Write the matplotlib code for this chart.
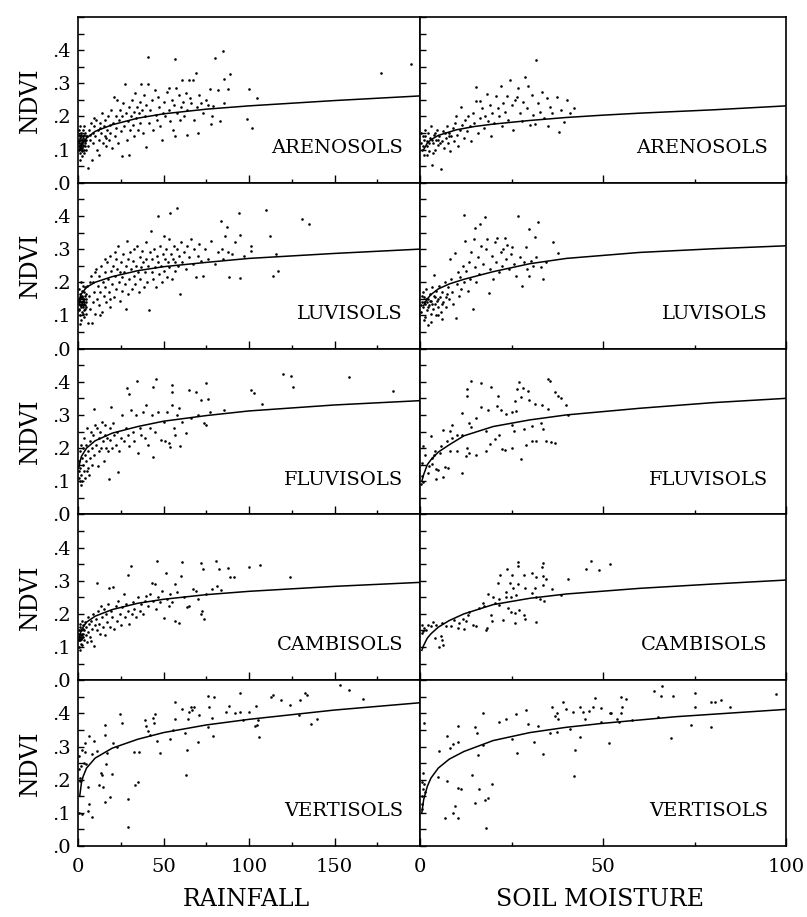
import numpy as np
import matplotlib
matplotlib.use("Agg")
import matplotlib.pyplot as plt
from matplotlib.ticker import MultipleLocator, FixedLocator

plt.rcParams['font.family'] = ['DejaVu Serif']

soils = ["ARENOSOLS", "LUVISOLS", "FLUVISOLS", "CAMBISOLS", "VERTISOLS"]
col_labels = ["RAINFALL", "SOIL MOISTURE"]
y_ticklabels = [".0", ".1", ".2", ".3", ".4"]
rain_ticklabels = ["0", "50", "100", "150"]
sm_ticklabels = ["0", "50", "100"]

# ---- points, (x, ndvi) ----
aren_rain = [
    (0.5, .10), (0.8, .12), (1, .14), (1.2, .09), (1.5, .11), (1.8, .13), (2, .15), (2.2, .10), (2.5, .12),
    (2.8, .14), (3, .16), (3.2, .11), (3.5, .13), (3.8, .09), (4, .12), (4.2, .15), (4.5, .10), (4.8, .13),
    (0.6, .16), (1.3, .17), (2.4, .08), (3.6, .17), (0.9, .07), (1.7, .105), (2.7, .125), (4.4, .14),
    (0.4, .13), (3.1, .135), (1.1, .115), (2.1, .095),
    (0.3, .11), (0.7, .125), (1.4, .135), (1.9, .12), (2.3, .13), (2.9, .115), (3.3, .145), (3.9, .125),
    (1.6, .145), (2.6, .105), (0.5, .145), (3.4, .1), (4.1, .11), (1.0, .105), (2.0, .14),
    (5.5, .14), (6, .11), (6.5, .16), (7, .13), (7.5, .18), (8, .07), (8.5, .15), (9, .12), (9.5, .17),
    (10, .14), (10.5, .19), (11, .10), (11.5, .16), (12, .085), (12.5, .13), (13, .18), (13.5, .15),
    (14, .21), (14.5, .12), (15, .17), (15.5, .14), (16, .19), (16.5, .11), (17, .16), (17.5, .2),
    (18, .13), (18.5, .175), (19, .15), (19.5, .22), (20, .105), (6.8, .145), (9.2, .195), (12.8, .165),
    (16.2, .135),
    (20.5, .18), (21, .26), (21.5, .14), (22, .2), (22.5, .165), (23, .25), (23.5, .12), (24, .19),
    (24.5, .22), (25, .155), (25.7, .08), (26, .2), (26.5, .24), (27, .17), (27.7, .297), (28, .21),
    (28.5, .13), (29, .185), (29.6, .085), (30, .23), (30.5, .16), (31, .2), (31.5, .25), (32, .175),
    (32.5, .215), (33, .14), (33.5, .27), (34, .195), (34.5, .23), (35, .16), (35.5, .21), (36, .245),
    (36.5, .18), (37, .297), (37.5, .22), (38, .15), (38.5, .265), (39, .2), (39.5, .235), (40, .107),
    (41, .297), (40.7, .38),
    (41.5, .18), (42, .22), (43, .25), (44, .16), (45, .28), (45.5, .205), (46, .19), (47, .26),
    (47.5, .23), (48, .17), (49, .13), (49.5, .21), (50, .245), (51, .2), (52, .275), (53, .287),
    (53.5, .22), (54, .185), (55, .25), (55.5, .16), (56, .235), (56.7, .372), (57, .14), (57.5, .287),
    (58, .21), (59, .265), (59.5, .19), (60, .23),
    (61, .31), (61.5, .245), (62, .2), (63, .27), (63.5, .22), (64, .145), (65, .31), (65.5, .255),
    (66, .24), (67, .31), (68, .19), (69, .332), (69.5, .23), (70, .15), (71, .265), (72, .24), (73, .21),
    (75, .25), (76, .235), (77, .284), (78, .176), (78.3, .2), (79, .233), (80, .375), (82, .28),
    (83, .186), (85, .396), (85.3, .312), (85.5, .241), (88, .284), (88.7, .327), (99, .193), (100, .282),
    (101.8, .166), (104.7, .255), (177, .33), (195, .357), (6, .044),
]

aren_sm = [
    (0.3, .12), (0.5, .1), (0.7, .14), (1, .085), (1.2, .13), (1.5, .16), (1.8, .11), (2, .125), (2.2, .15),
    (2.5, .095), (2.8, .135), (3, .17), (3.3, .054), (3.5, .12), (3.8, .145), (4, .1), (4.3, .13),
    (4.6, .16), (5, .115), (5.3, .14), (5.8, .042), (6, .125), (6.3, .155), (6.6, .105), (7, .135),
    (7.3, .17), (7.6, .12), (8, .15), (8.3, .095), (8.6, .14), (9, .165), (9.3, .125), (9.6, .18),
    (0.4, .15), (0.9, .11), (1.4, .14), (2.4, .12), (3.2, .13), (4.1, .15), (4.8, .13), (5.5, .12),
    (6.8, .15), (7.8, .14), (2.0, .085), (3.6, .09),
    (9.9, .202), (10, .145), (10.4, .11), (10.8, .16), (11.3, .229), (11.5, .175), (12, .135), (12.4, .19),
    (12.8, .155), (13.2, .2), (13.6, .17), (14, .125), (14.4, .21), (14.8, .18), (15.4, .29), (15.4, .246),
    (15.8, .15), (16.3, .246), (16.5, .195), (17, .225), (17.4, .165), (17.8, .2), (18.2, .267),
    (18.6, .185), (19, .235), (19.4, .14), (19.8, .21), (20.2, .18), (20.9, .262), (21.2, .225),
    (21.6, .2), (22, .292), (22.4, .17), (22.8, .24), (23.2, .215), (23.7, .262), (24.1, .19), (24.6, .31),
    (25, .235), (25.4, .16), (26, .25), (26.4, .26), (26.9, .285), (27.3, .21), (27.8, .185), (28.2, .245),
    (28.7, .32), (29.1, .225), (29.6, .293), (30, .175), (30.5, .265), (31, .205), (31.5, .178),
    (31.7, .369), (32.2, .24), (32.8, .215), (33.4, .275), (34, .195), (34.7, .257), (35, .172),
    (35.6, .23), (36.2, .21), (37.4, .26), (37.9, .154), (38.5, .22), (39.3, .184), (40.2, .25), (41, .21),
    (42, .227),
]

luv_rain = [
    (0.3, .12), (0.5, .15), (0.7, .18), (0.9, .1), (1.1, .13), (1.3, .165), (1.5, .2), (1.7, .085),
    (1.9, .14), (2.1, .175), (2.3, .11), (2.5, .155), (2.7, .19), (2.9, .125), (3.1, .145), (3.3, .095),
    (3.5, .17), (3.7, .135), (3.9, .16), (4.1, .12), (4.3, .185), (4.5, .15), (4.7, .105), (4.9, .14),
    (0.6, .135), (1.6, .125), (2.6, .14), (3.6, .115), (1.2, .075), (2.2, .16), (3.2, .13), (4.4, .165),
    (0.8, .145), (2.8, .105),
    (0.4, .14), (1.0, .155), (1.4, .145), (1.8, .155), (2.4, .135), (3.0, .15), (3.4, .14), (4.0, .13),
    (4.6, .125), (0.6, .115), (2.0, .13), (3.8, .15),
    (5.5, .19), (6, .076), (6.5, .16), (7, .12), (7.5, .22), (8, .076), (8.5, .14), (9, .2), (9.5, .17),
    (10, .105), (10.5, .24), (11, .15), (11.5, .19), (12, .13), (12.5, .22), (13, .17), (13.5, .25),
    (14, .11), (14.5, .2), (15, .16), (15.5, .23), (16, .185), (16.5, .14), (17, .26), (17.5, .21),
    (18, .17), (18.5, .28), (19, .125), (19.5, .235), (20, .195), (20.5, .25), (21, .155), (21.5, .22),
    (22, .27), (22.5, .18), (23, .24), (23.5, .31), (24, .2), (24.5, .145), (25, .26), (25.5, .215),
    (26, .175), (26.5, .285), (27, .23), (27.5, .195), (28, .25), (28.5, .325), (29, .165), (29.5, .27),
    (30, .21), (6.8, .2), (9.8, .23), (12.8, .1), (15.8, .27), (18.8, .15), (21.8, .29), (24.8, .23),
    (27.8, .12),
    (30.5, .29), (31, .24), (31.5, .18), (32, .265), (32.5, .22), (33, .3), (33.5, .195), (34, .25),
    (34.5, .31), (35, .23), (35.5, .17), (36, .275), (36.5, .21), (37, .245), (37.5, .295), (38, .26),
    (38.5, .185), (39, .23), (39.5, .32), (40, .27), (40.5, .2), (41, .25), (41.7, .116), (42, .29),
    (42.9, .356), (43, .23), (43.5, .27), (44, .21), (44.5, .3), (45, .245), (45.5, .185), (46, .28),
    (46.6, .4), (47, .26), (47.5, .225), (48, .31), (48.5, .25), (49, .2), (49.5, .285), (50, .34),
    (50.5, .235), (51, .27), (51.5, .3), (52, .215), (52.5, .26), (53, .33), (53.5, .245), (54, .409),
    (54.5, .285), (55, .21), (55.5, .27), (56, .31), (56.5, .235), (57, .26), (58, .424), (58, .3),
    (58.5, .25), (59, .28), (59.8, .164), (60, .32),
    (61, .26), (62, .29), (63, .24), (64, .31), (65, .275), (66, .33), (67, .255), (68, .3), (69, .215),
    (70, .28), (71, .315), (72, .265), (73, .22), (74, .3), (76, .27), (78, .325), (80, .255), (82, .29),
    (83.6, .384), (84, .3), (85, .27), (86, .34), (87, .366), (88, .29), (88.5, .215), (90, .285),
    (92, .32), (94, .409), (94.7, .212), (95, .343), (97, .28), (101, .308), (101, .295), (110, .417),
    (112, .34), (114, .219), (116, .285), (117, .234), (131, .392), (135, .377),
]

luv_sm = [
    (0.3, .11), (0.5, .14), (0.7, .17), (0.9, .125), (1.1, .155), (1.3, .095), (1.5, .135), (1.7, .18),
    (1.9, .115), (2.1, .15), (2.3, .07), (2.5, .13), (2.7, .165), (2.9, .105), (3.1, .145), (3.3, .185),
    (3.5, .12), (3.7, .16), (3.9, .221), (4.1, .135), (4.3, .1), (4.5, .175), (4.7, .145), (4.9, .125),
    (0.4, .13), (1.0, .14), (1.6, .15), (2.2, .125), (2.8, .145), (3.4, .135), (4.0, .155), (5.0, .15),
    (6.0, .135), (7.0, .155), (0.6, .16), (1.8, .14),
    (5.2, .19), (5.5, .155), (5.8, .11), (6.1, .17), (6.4, .14), (6.7, .2), (7, .125), (7.3, .165),
    (7.6, .185), (7.9, .15), (8.3, .269), (8.5, .21), (8.8, .17), (9.1, .135), (9.6, .289), (9.8, .092),
    (10, .195), (10.3, .23), (10.6, .16), (11, .215), (11.3, .18), (11.7, .25), (12, .2), (12.1, .403),
    (12.4, .323), (12.7, .235), (13, .175), (13.3, .26), (13.6, .21), (14, .29), (14.4, .119), (14.7, .33),
    (15, .245), (15.1, .363), (15.4, .2), (15.8, .275), (16.2, .225), (16.5, .375), (16.8, .31),
    (17.2, .255), (17.7, .396), (18, .3), (18.3, .331), (18.8, .169), (19.2, .24), (19.6, .28), (20, .21),
    (20.4, .32), (20.8, .26), (21.1, .335), (21.5, .23), (22, .29), (22.4, .25), (22.8, .3), (23.2, .335),
    (23.6, .27), (23.9, .311), (24.3, .24), (24.8, .285), (25.2, .305), (25.7, .255), (26.2, .22),
    (26.9, .401), (27.3, .275), (27.8, .189), (28.3, .26), (28.9, .305), (29.3, .24), (29.8, .36),
    (29.8, .219), (30.3, .265), (31, .25), (31.5, .336), (31.7, .276), (32.3, .383), (33, .245),
    (33.7, .209), (34.5, .26), (36.4, .322), (37.6, .287), (6, .09), (3, .08), (1, .085), (5, .1),
]

fluv_rain = [
    (0.3, .13), (0.5, .16), (0.7, .11), (0.9, .19), (1.2, .14), (1.5, .21), (1.8, .12), (2.1, .17),
    (2.4, .1), (2.7, .2), (3, .15), (3.3, .23), (3.6, .13), (3.9, .18), (4.2, .11), (4.5, .21), (4.8, .16),
    (5.2, .26), (5.6, .14), (6, .19), (6.4, .12), (6.8, .22), (7.2, .17), (7.6, .25), (8, .2), (8.4, .15),
    (8.8, .24), (9.2, .318), (9.6, .18), (10, .27), (1, .1), (2, .09), (5, .13),
    (10.5, .21), (11, .26), (11.5, .145), (12, .23), (12.5, .19), (13, .25), (13.5, .2), (14, .28),
    (14.5, .22), (15, .16), (15.5, .24), (16, .27), (16.5, .2), (17, .23), (17.5, .19), (18.3, .108),
    (18.5, .26), (19, .225), (19.3, .323), (20, .2), (20.5, .275), (21, .24), (22, .21), (23, .25),
    (23.6, .128), (24, .19), (25, .23), (26, .3), (27, .22), (28, .26), (28.7, .382), (29, .24),
    (29.6, .364), (30, .205), (31, .315), (32, .25), (33, .22), (34, .3), (34.5, .403), (35, .185),
    (36, .26), (37, .24), (38, .31), (39, .23), (40, .33),
    (41, .21), (42, .26), (43, .3), (43.7, .385), (44, .172), (45, .25), (45.6, .408), (47, .31),
    (48.7, .223), (50, .28), (51, .22), (52, .31), (53, .215), (54, .203), (54.8, .39), (54.8, .369),
    (55, .33), (56, .26), (57, .24), (58, .3), (59.3, .32), (59.8, .205), (61, .28), (63, .245),
    (64.7, .376), (66, .29), (69, .369), (70, .3), (72, .344), (73.9, .277), (74.9, .269), (74.9, .395),
    (75.8, .349), (77, .31), (85.6, .316), (101, .374), (103, .366), (107.4, .333), (119.7, .424),
    (124.6, .418), (125.5, .385), (158.7, .413), (184, .371),
]

fluv_sm = [
    (13.9, .401), (16.7, .396), (19.3, .383), (12.8, .378), (12.8, .356), (21.3, .358), (27.1, .398),
    (26.6, .378), (28.2, .381), (29.6, .371), (35, .408), (35.6, .403), (37, .368), (37.6, .358),
    (38.5, .351), (39.9, .331), (27.5, .353), (26, .342), (29.8, .346), (31.5, .334), (33.3, .329),
    (35.1, .317), (16.8, .324), (18.6, .314), (21.1, .326), (22, .314), (23.4, .304), (25.2, .309),
    (26.3, .311), (15.4, .291), (11.5, .307), (13.3, .277), (14, .264), (17.9, .251), (21.7, .238),
    (20.6, .228), (19, .212), (22.5, .198), (23.2, .195), (25.2, .2), (18.1, .19), (15.3, .18),
    (13.3, .185), (12.6, .175), (12.8, .2), (11.5, .126), (27.5, .168), (28.9, .208), (30.5, .22),
    (31.7, .22), (34.4, .22), (35.8, .218), (37, .216), (28.4, .257), (30.7, .266), (33.5, .257),
    (33, .277), (25.2, .271), (25.7, .251), (40.4, .299), (6.4, .256), (8.3, .251), (8.7, .269),
    (3, .235), (10.1, .24), (7.3, .22), (8.7, .23), (5.8, .207), (4.1, .192), (5.5, .185), (8.3, .19),
    (10.1, .19), (0.9, .205), (1.4, .18), (3.2, .17), (4.3, .136), (5, .133), (6.7, .143), (7.6, .141),
    (6.4, .113), (4.3, .106), (2.1, .126), (2.5, .146), (0.6, .155), (0.5, .116), (0.9, .099),
    (0.3, .091), (11.5, .238), (3.2, .152), (3.7, .18),
]

camb_rain = [
    (0.3, .12), (0.5, .14), (0.7, .1), (0.9, .16), (1.1, .13), (1.3, .17), (1.5, .11), (1.7, .15),
    (1.9, .125), (2.1, .18), (2.3, .14), (2.5, .105), (2.7, .155), (2.9, .13), (3.1, .165), (3.4, .12),
    (3.7, .15), (4, .175), (4.4, .135), (4.8, .16), (5.2, .115), (5.6, .19), (6, .145), (6.5, .17),
    (7, .13), (7.4, .119), (7.8, .18), (8.2, .155), (8.7, .2), (9.4, .104), (9.8, .165), (1, .09),
    (0.6, .13), (1.2, .14), (1.6, .125), (2.0, .135), (2.6, .13), (3.0, .14), (0.4, .15), (1.4, .12),
    (10.5, .185), (11, .15), (11.3, .294), (11.8, .21), (12.3, .17), (12.8, .14), (13.4, .225), (14, .19),
    (14.6, .16), (15.2, .215), (15.8, .135), (16.4, .2), (17, .175), (17.5, .23), (18.1, .279),
    (18.6, .16), (19.2, .21), (20, .19), (20.7, .281), (21.3, .155), (22, .225), (22.8, .18), (23.5, .24),
    (24.3, .2), (25, .165), (26, .22), (26.8, .26), (27.5, .19), (28.3, .23), (29, .21), (29.4, .318),
    (30, .17), (30.8, .345), (31.5, .2), (32.3, .235), (33, .215), (34, .19), (35, .25), (36, .21),
    (37, .23), (38, .2), (39, .24), (40, .255),
    (41, .225), (42, .26), (43, .292), (44, .24), (45, .291), (45.5, .215), (46.4, .358), (47, .25),
    (48, .235), (49, .27), (50.3, .189), (51.3, .322), (52, .245), (53, .225), (54, .26), (55, .235),
    (57, .29), (57, .179), (58, .265), (59, .174), (60, .313), (61, .355), (62, .25), (64, .22), (65, .225),
    (67, .275), (69, .27), (70, .245), (71.7, .353), (71.7, .199), (72.7, .209), (73.3, .335), (73.7, .186),
    (75, .26), (78.6, .274), (80.5, .358), (81.5, .284), (82.5, .335), (83.4, .272), (87.7, .338),
    (88.9, .31), (91, .31), (100, .34), (106.4, .347), (124, .31),
]

camb_sm = [
    (26.8, .356), (26.8, .344), (33.5, .354), (33.2, .341), (23.8, .334), (21.9, .318), (25.2, .316),
    (28.4, .318), (30.6, .323), (31.8, .311), (33.7, .313), (34.4, .306), (21.3, .292), (24.5, .292),
    (26.8, .29), (25.4, .277), (28.6, .277), (31.4, .277), (33.5, .287), (36, .274), (23.6, .267),
    (23.4, .252), (24.9, .252), (26.3, .257), (30.7, .262), (31.8, .252), (32.8, .244), (33.9, .24),
    (38.4, .257), (40.4, .306), (45.4, .336), (46.8, .359), (48.8, .333), (51.8, .351), (18.5, .259),
    (21.7, .244), (20.6, .234), (16.2, .217), (17.6, .224), (19.4, .197), (19.7, .18), (18.3, .157),
    (17.9, .15), (22.7, .182), (24, .217), (24.9, .207), (25.9, .202), (27.1, .212), (25.9, .172),
    (28.6, .184), (28.3, .197), (31.6, .177), (13, .197), (13.5, .207), (11.7, .184), (12.6, .18),
    (10.7, .172), (10.3, .157), (12.1, .154), (14.4, .167), (15.3, .162), (9.2, .182), (8.4, .162),
    (7.1, .162), (6, .172), (5.7, .132), (6.1, .12), (6.4, .107), (5.2, .1), (4.1, .127), (2.9, .162),
    (3.6, .177), (4.3, .167), (2.3, .167), (1.1, .157), (0.8, .147), (0.6, .167), (1.6, .152), (0.5, .142),
    (21.7, .227), (19.9, .252), (17.2, .232),
]

vert_rain = [
    (153.4, .485), (158.6, .469), (166.5, .444), (136.5, .369), (139.8, .382), (129, .394), (129.6, .439),
    (133, .462), (134, .455), (123.8, .424), (113.8, .454), (113, .449), (118.9, .44), (104.1, .422),
    (100.2, .404), (105.3, .379), (104.7, .365), (103.3, .362), (105.7, .33), (95, .46), (96.3, .379),
    (95, .404), (92, .402), (88.5, .422), (86.5, .405), (76, .452), (79.7, .449), (76.4, .419), (76, .359),
    (78.4, .387), (78.8, .332), (70.2, .314), (70.6, .394), (68, .42), (66.3, .419), (65.1, .405),
    (66.7, .409), (60.8, .412), (64.3, .384), (62.4, .342), (63.7, .291), (63.2, .214), (57, .435),
    (57, .384), (55.4, .349), (53.6, .324), (48.1, .279), (46.2, .317), (45.2, .399), (43.7, .385),
    (44.2, .372), (42.3, .335), (39.8, .362), (39, .379), (41, .347), (32.6, .283), (35.5, .283),
    (35.1, .193), (33.5, .183), (29, .141), (29, .057), (24.8, .399), (25.7, .372), (22.8, .3),
    (20.5, .312), (19.9, .216), (18.9, .148), (16.6, .246), (15.6, .133), (16, .334), (16, .364),
    (17, .281), (14, .213), (14.6, .178), (12.1, .183), (13.5, .221), (11.1, .286), (9.2, .317),
    (8.2, .276), (6.2, .332), (5.8, .178), (6.6, .126), (5.8, .106), (8.2, .087), (4.3, .283), (3.9, .31),
    (4.7, .248), (2.3, .291), (3.3, .251), (1.9, .241), (1.4, .196), (0.8, .1), (2.3, .095), (0.8, .231),
    (1.4, .206), (0.8, .271),
]

vert_sm = [
    (66.2, .484), (63.9, .467), (65.8, .452), (69, .452), (75.2, .46), (75.2, .419), (74, .365),
    (79.4, .435), (80.6, .435), (82.3, .439), (84.6, .419), (79.4, .359), (97.2, .459), (68.7, .327),
    (64.9, .39), (58, .379), (54.9, .45), (56.4, .444), (55.2, .42), (54.8, .4), (54.5, .374), (53.7, .382),
    (51.8, .402), (52.2, .402), (51.7, .312), (49.4, .417), (49.5, .374), (47.9, .447), (47.2, .42),
    (46.1, .407), (45.1, .382), (44.5, .404), (43.6, .42), (41.7, .404), (41, .354), (43.8, .329),
    (42.4, .289), (42, .212), (39.8, .412), (39.2, .435), (37.3, .4), (37.8, .384), (36.9, .392),
    (36.1, .42), (37.3, .345), (35.5, .342), (33.5, .277), (31.1, .314), (29.5, .367), (32.3, .362),
    (28.9, .41), (26.1, .397), (23.6, .384), (21.7, .374), (25, .324), (26.5, .28), (17.2, .4), (15.1, .36),
    (15.5, .342), (17.2, .304), (15.8, .275), (14.2, .214), (16.1, .172), (15.1, .129), (17.7, .14),
    (18.5, .145), (19.7, .187), (17.9, .054), (10.3, .362), (10.3, .315), (9.1, .309), (8.3, .297),
    (7.5, .332), (5.2, .287), (5, .207), (7.3, .195), (10.3, .174), (11.2, .172), (9.5, .122), (8.9, .1),
    (6.9, .084), (10.5, .084), (1.1, .37), (0.8, .22), (0.6, .192), (0.8, .172), (0.6, .152), (0.6, .127),
    (0.5, .112), (1.1, .187), (1.4, .162),
]

# ---- fitted curves ----
aren_rain_fit_x = [1, 2, 5, 10, 20, 35, 50, 75, 100, 150, 200]
aren_rain_fit_y = [.10, .115, .135, .155, .175, .195, .208, .222, .232, .248, .262]
aren_sm_fit_x = [1, 2, 3, 5, 10, 15, 20, 30, 40, 50, 60, 80, 100]
aren_sm_fit_y = [.10, .12, .13, .143, .16, .17, .177, .188, .197, .204, .21, .22, .232]
luv_rain_fit_x = [1, 2, 5, 10, 20, 35, 50, 75, 100, 150, 200]
luv_rain_fit_y = [.15, .165, .185, .2, .217, .235, .247, .26, .272, .287, .3]
luv_sm_fit_x = [1, 2, 3, 5, 8, 12, 20, 30, 40, 60, 80, 100]
luv_sm_fit_y = [.13, .15, .163, .18, .195, .209, .232, .256, .272, .29, .301, .31]
fluv_rain_fit_x = [0.5, 1, 2, 5, 10, 20, 35, 50, 75, 100, 150, 200]
fluv_rain_fit_y = [.14, .155, .175, .2, .222, .245, .265, .281, .298, .312, .33, .343]
fluv_sm_fit_x = [0.5, 1, 2, 3, 5, 8, 12, 20, 30, 40, 60, 80, 100]
fluv_sm_fit_y = [.1, .12, .15, .165, .188, .21, .237, .265, .285, .3, .32, .337, .35]
camb_rain_fit_x = [0.5, 1, 2, 5, 10, 20, 35, 50, 75, 100, 150, 200]
camb_rain_fit_y = [.12, .135, .152, .175, .193, .213, .232, .244, .258, .268, .283, .295]
camb_sm_fit_x = [0.5, 1, 2, 3, 5, 8, 12, 20, 30, 40, 60, 80, 100]
camb_sm_fit_y = [.09, .105, .127, .14, .16, .18, .2, .228, .247, .26, .277, .29, .302]
vert_rain_fit_x = [1, 2, 3, 5, 10, 20, 35, 50, 75, 100, 150, 200]
vert_rain_fit_y = [.15, .19, .21, .235, .265, .295, .322, .342, .365, .382, .41, .432]
vert_sm_fit_x = [0.5, 1, 2, 3, 5, 8, 12, 20, 30, 40, 50, 70, 100]
vert_sm_fit_y = [.1, .14, .18, .205, .235, .262, .285, .318, .342, .358, .37, .39, .412]

panels = [
    [(aren_rain, aren_rain_fit_x, aren_rain_fit_y), (aren_sm, aren_sm_fit_x, aren_sm_fit_y)],
    [(luv_rain, luv_rain_fit_x, luv_rain_fit_y), (luv_sm, luv_sm_fit_x, luv_sm_fit_y)],
    [(fluv_rain, fluv_rain_fit_x, fluv_rain_fit_y), (fluv_sm, fluv_sm_fit_x, fluv_sm_fit_y)],
    [(camb_rain, camb_rain_fit_x, camb_rain_fit_y), (camb_sm, camb_sm_fit_x, camb_sm_fit_y)],
    [(vert_rain, vert_rain_fit_x, vert_rain_fit_y), (vert_sm, vert_sm_fit_x, vert_sm_fit_y)],
]

W, H = 807, 917
fig = plt.figure(figsize=(W / 100, H / 100), dpi=100)

# panel geometry in pixels from top-left
left0, mid, right1 = 78, 420, 786
top, bottom = 17, 846
row_h = (bottom - top) / 5
col_x = [(left0, mid - left0), (mid, right1 - mid)]
x_max = [200, 100]

for r in range(5):
    y_bot_px = top + (r + 1) * row_h
    for c in range(2):
        px, pw = col_x[c]
        ax = fig.add_axes([px / W, 1 - y_bot_px / H, pw / W, row_h / H])
        pts, fx, fy = panels[r][c]
        pts = np.array(pts)
        ax.scatter(pts[:, 0], pts[:, 1], s=3.5, color='black', linewidths=0)
        ax.plot(fx, fy, color='black', lw=1.1)
        ax.set_xlim(0, x_max[c])
        ax.set_ylim(0, 0.5)

        ax.yaxis.set_major_locator(FixedLocator([0, .1, .2, .3, .4]))
        ax.yaxis.set_minor_locator(MultipleLocator(0.05))
        ax.xaxis.set_major_locator(MultipleLocator(50))
        ax.xaxis.set_minor_locator(MultipleLocator(25))
        ax.tick_params(axis='x', which='major', direction='in', length=6, width=1.0)
        ax.tick_params(axis='x', which='minor', direction='in', length=3, width=1.0)
        ax.tick_params(axis='y', which='both', direction='in', length=4, width=1.0)
        for sp in ax.spines.values():
            sp.set_linewidth(1.2)

        if c == 0:
            ax.set_yticklabels(y_ticklabels, fontsize=14)
            ax.tick_params(axis='y', pad=5)
        else:
            ax.set_yticklabels([])

        if r == 4:
            labels = rain_ticklabels if c == 0 else sm_ticklabels
            ax.set_xticks([50 * i for i in range(len(labels))])
            ax.set_xticklabels(labels, fontsize=14)
            ax.tick_params(axis='x', pad=9)
        else:
            ax.set_xticklabels([])

        ax.text(0.95, 0.21, soils[r], transform=ax.transAxes, ha='right', va='center', fontsize=14)

    fig.text(30 / W, 1 - (top + (r + 0.5) * row_h) / H, "NDVI", rotation=90,
             ha='center', va='center', fontsize=17)

fig.text(246 / W, 1 - 900 / H, col_labels[0], ha='center', va='center', fontsize=17)
fig.text(600 / W, 1 - 900 / H, col_labels[1], ha='center', va='center', fontsize=17)

fig.savefig("out.png", dpi=100)
